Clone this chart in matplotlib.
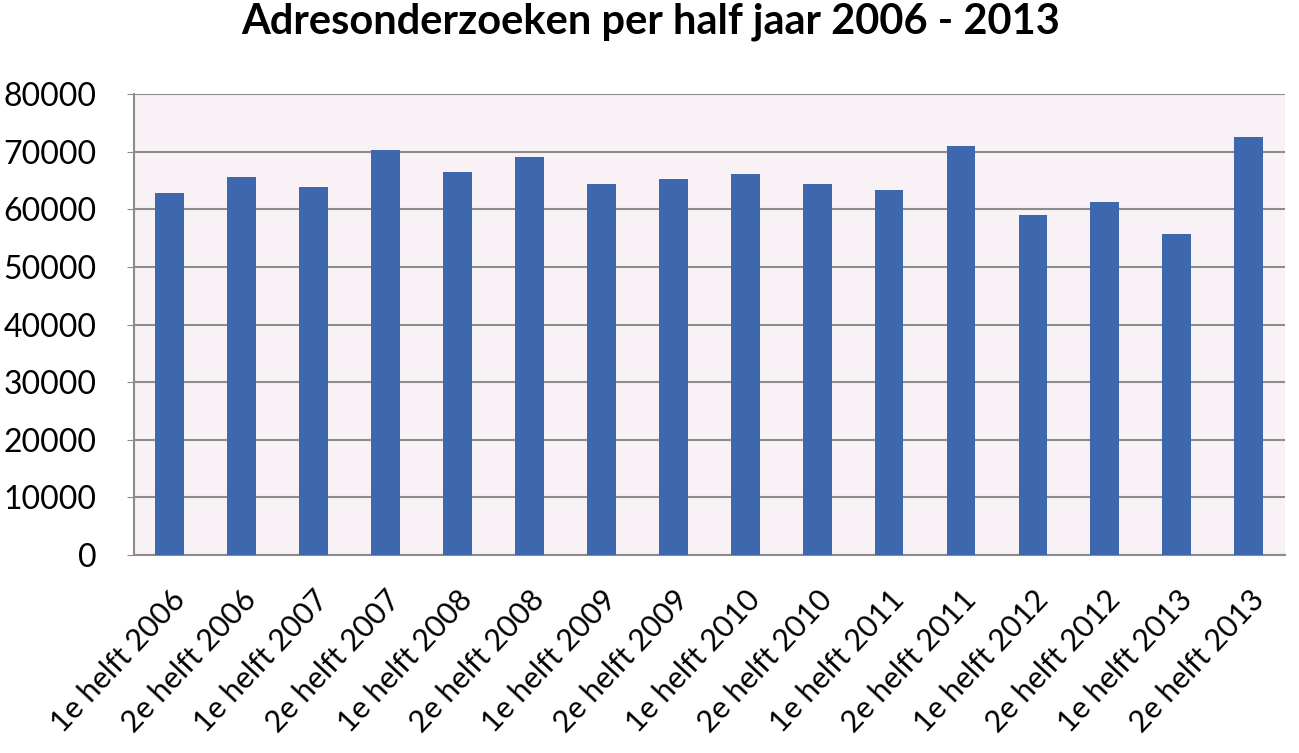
import matplotlib.pyplot as plt

plt.rcParams['font.family'] = ['Lato', 'DejaVu Sans']

periods = ['1e helft 2006', '2e helft 2006', '1e helft 2007', '2e helft 2007',
           '1e helft 2008', '2e helft 2008', '1e helft 2009', '2e helft 2009',
           '1e helft 2010', '2e helft 2010', '1e helft 2011', '2e helft 2011',
           '1e helft 2012', '2e helft 2012', '1e helft 2013', '2e helft 2013']
onderzoeken = [62800, 65600, 63900, 70300, 66500, 69100, 64400, 65300,
               66100, 64400, 63400, 71000, 59000, 61300, 55700, 72600]

fig = plt.figure(figsize=(12.99, 7.53), dpi=100)
ax = fig.add_axes([0.103, 0.263, 0.886, 0.612])
ax.set_facecolor('#f8f1f5')
x = range(len(periods))
ax.bar(x, onderzoeken, width=0.4, color='#3d68ae', zorder=3)
ax.set_xlim(-0.5, len(periods) - 0.5)
ax.set_ylim(0, 80000)
ax.set_yticks(range(0, 80001, 10000))
ax.yaxis.grid(True, color='#8c8c8c', linewidth=1.5, zorder=0)
ax.tick_params(axis='y', length=5, labelsize=23, pad=22, color='#8c8c8c')
ax.tick_params(axis='x', length=0, labelsize=22, pad=22)
ax.set_xticks(list(x))
ax.set_xticklabels(periods, rotation=47, ha='right', rotation_mode='anchor')
for s in ['top', 'right']:
    ax.spines[s].set_visible(False)
for s in ['left', 'bottom']:
    ax.spines[s].set_color('#8c8c8c')
    ax.spines[s].set_linewidth(1.5)
fig.text(0.501, 0.955, 'Adresonderzoeken per half jaar 2006 - 2013', fontsize=30,
         fontweight='bold', ha='center', va='baseline')
fig.savefig('out.png')
